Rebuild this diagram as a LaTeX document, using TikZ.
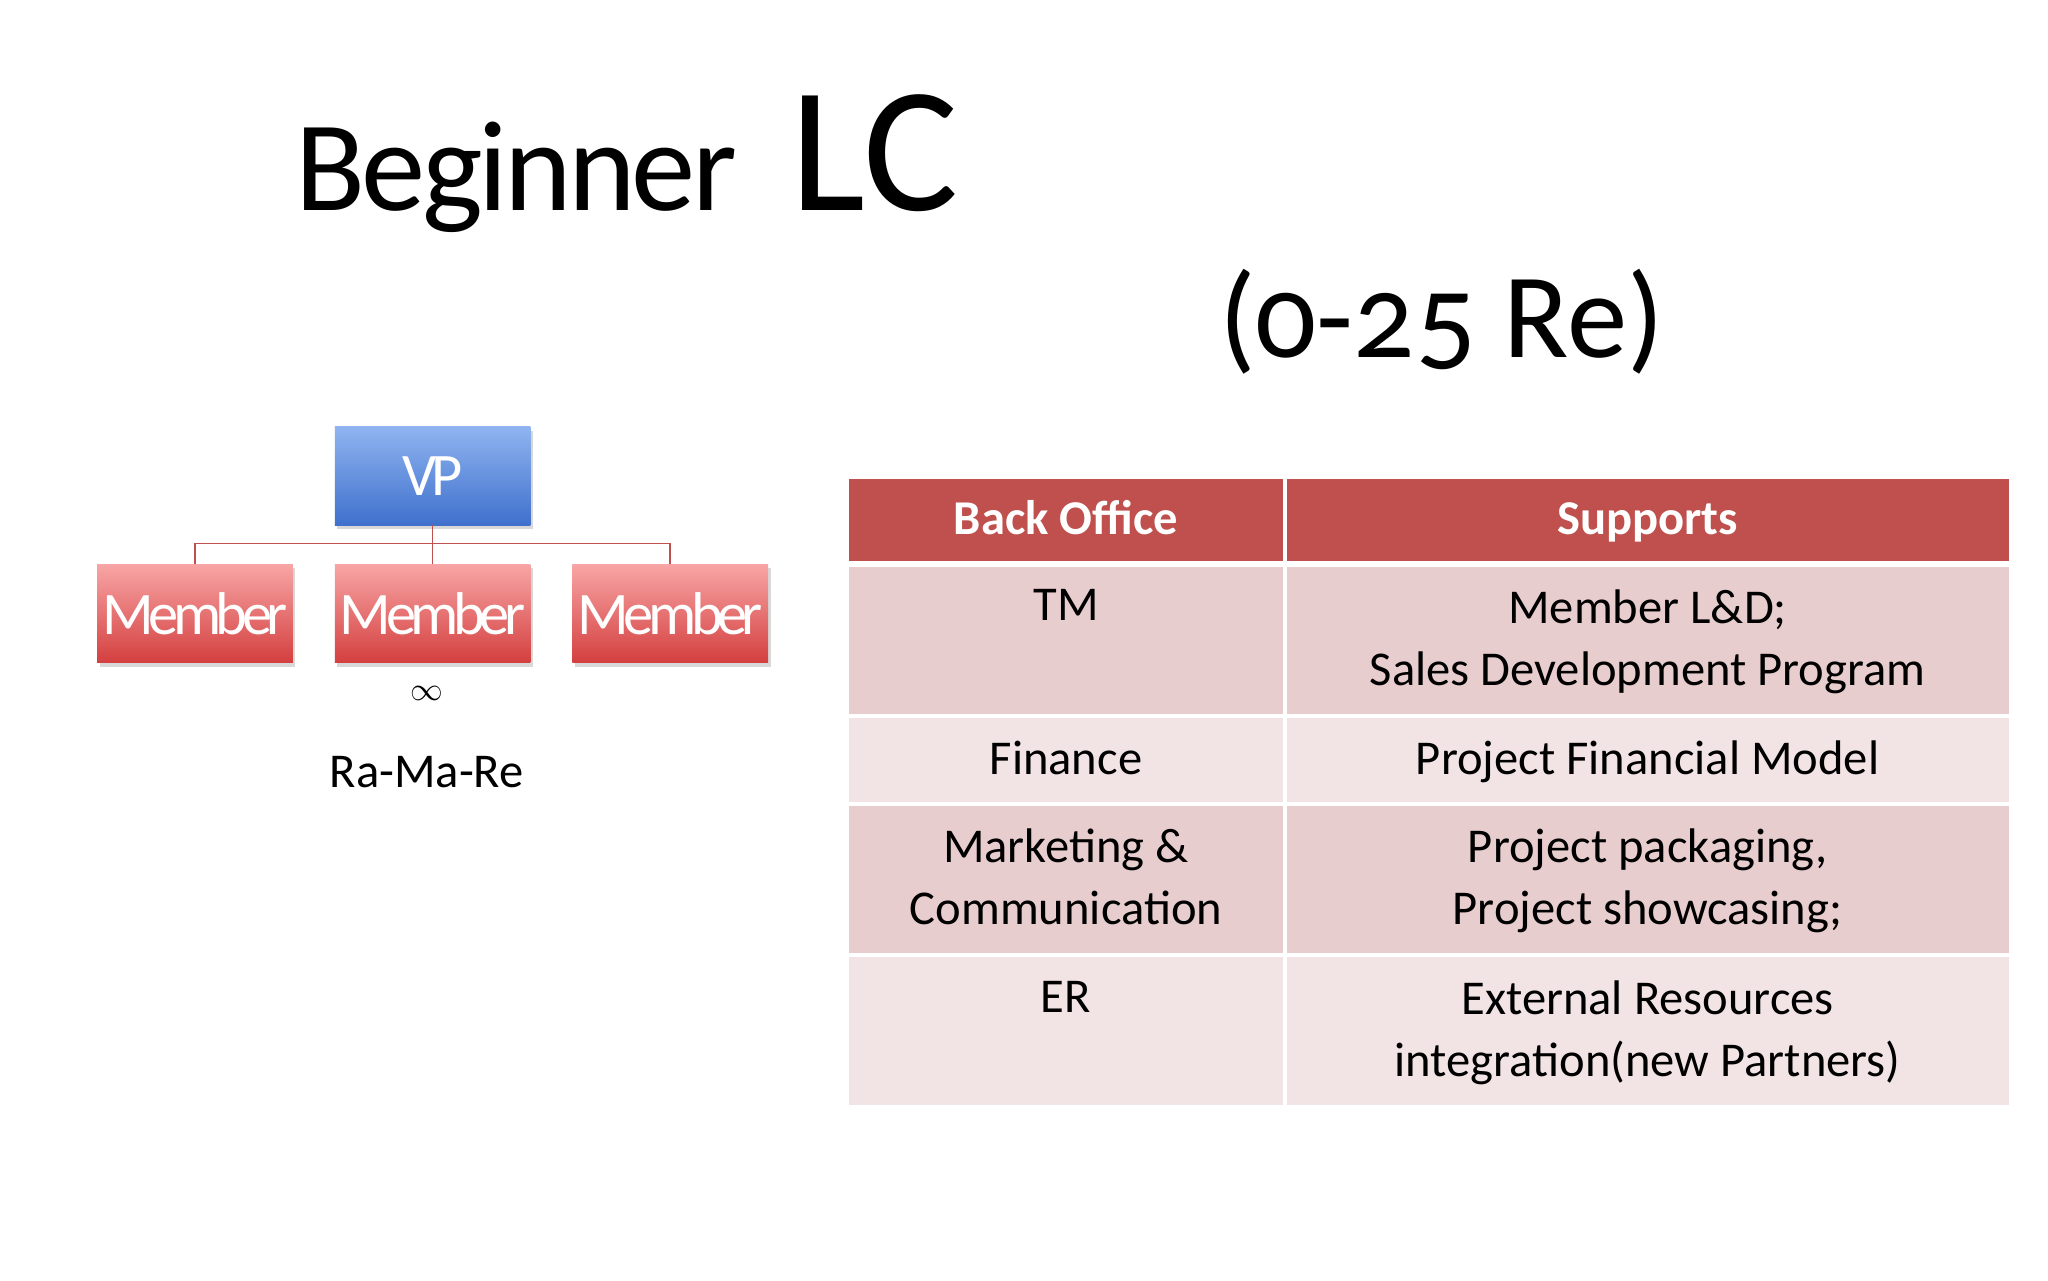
\documentclass[tikz,border=0pt]{standalone}
\usepackage{fontspec}
\setmainfont{Carlito}[Numbers=OldStyle]
\usetikzlibrary{shadows}
\definecolor{hdr}{HTML}{C0504D}
\definecolor{rowA}{HTML}{E8CDCF}
\definecolor{rowB}{HTML}{F2E4E5}
\definecolor{lnk}{HTML}{C0504D}
\definecolor{vpT}{HTML}{8FB4F0}
\definecolor{vpB}{HTML}{3F70CC}
\definecolor{mT}{HTML}{F8A5A5}
\definecolor{mB}{HTML}{D43F3F}
\tikzset{
  box/.style={minimum width=149pt,minimum height=75pt,inner sep=0pt,text=white,
     font=\fontsize{46}{50}\selectfont\addfontfeature{LetterSpace=-9},
     drop shadow={shadow xshift=2pt,shadow yshift=-3pt,opacity=0.3}},
  vpbox/.style={box,top color=vpT,bottom color=vpB},
  membox/.style={box,top color=mT,bottom color=mB},
  txt/.style={anchor=north,inner sep=0pt,align=center,font=\fontsize{37}{47}\selectfont},
  link/.style={draw=lnk,line width=1.2pt}
}
\begin{document}
\begin{tikzpicture}[x=1pt,y=-1pt]
\useasboundingbox[fill=white] (0,0) rectangle (1560,975);
\node[anchor=base west,inner sep=0pt,font=\fontsize{98}{110}\selectfont\addfontfeature{LetterSpace=-3}] (t1) at (225,160) {Beginner};
\node[anchor=base west,inner sep=0pt,font=\fontsize{136}{140}\selectfont] (t2) at (602,160) {LC};
\node[anchor=base,inner sep=0pt,font=\fontsize{92}{100}\selectfont] (t3) at (1098,272) {(0-25 Re)};
% org chart
\node[vpbox] (vp) at (329.5,362.5) {VP};
\node[membox] (m1) at (148.5,467.5) {Member};
\node[membox] (m2) at (329.5,467.5) {Member};
\node[membox] (m3) at (510.5,467.5) {Member};
\coordinate (j) at (329.5,414);
\draw[link] (vp.south) -- (j);
\draw[link] (m1.north) -- (m1.north |- j) -- (m3.north |- j) -- (m3.north);
\draw[link] (j) -- (m2.north);
\node[font=\fontsize{62}{62}\selectfont] (inf) at (325,528) {$\infty$};
\node[font=\fontsize{37}{40}\selectfont\addfontfeature{Numbers=Lining}] (rmr) at (325,588) {Ra-Ma-Re};
% table
\fill[hdr] (647,365) rectangle (977,427);
\fill[hdr] (980,365) rectangle (1530,427);
\fill[rowA] (647,432) rectangle (977,544); \fill[rowA] (980,432) rectangle (1530,544);
\fill[rowB] (647,547) rectangle (977,611); \fill[rowB] (980,547) rectangle (1530,611);
\fill[rowA] (647,614) rectangle (977,726); \fill[rowA] (980,614) rectangle (1530,726);
\fill[rowB] (647,729) rectangle (977,842); \fill[rowB] (980,729) rectangle (1530,842);
\node[anchor=base,text=white,font=\bfseries\fontsize{37}{44}\selectfont] (h1) at (812,407) {Back Office};
\node[anchor=base,text=white,font=\bfseries\fontsize{37}{44}\selectfont] (h2) at (1255,407) {Supports};
\node[txt] (a1) at (812,449) {TM};
\node[txt] (b1) at (1255,449) {Member L\&D;\\Sales Development Program};
\node[txt] (a2) at (812,564) {Finance};
\node[txt] (b2) at (1255,564) {Project Financial Model};
\node[txt] (a3) at (812,631) {Marketing \&\\Communication};
\node[txt] (b3) at (1255,631) {Project packaging,\\Project showcasing;};
\node[txt] (a4) at (812,747) {ER};
\node[txt] (b4) at (1255,747) {External Resources\\integration(new Partners)};
\end{tikzpicture}
\end{document}
